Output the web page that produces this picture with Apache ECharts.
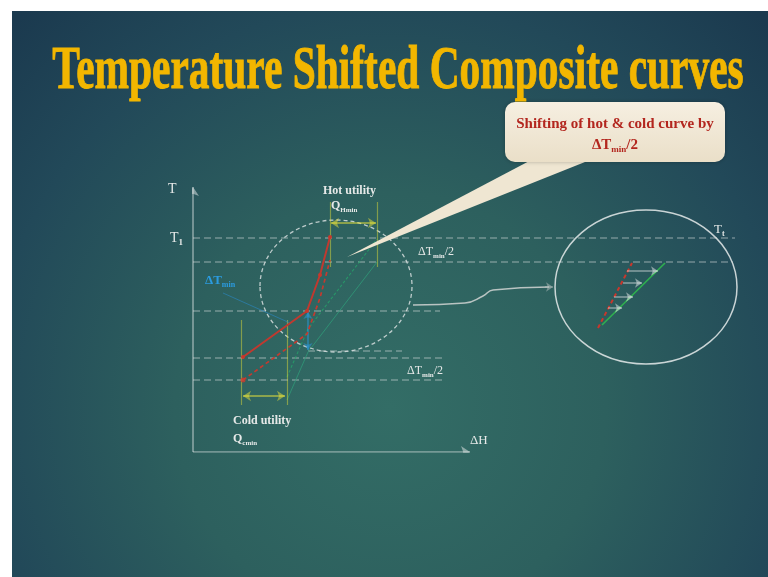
<!DOCTYPE html>
<html><head><meta charset="utf-8">
<script src="https://cdn.jsdelivr.net/npm/echarts@6/dist/echarts.min.js"></script>
<style>html,body{margin:0;padding:0;background:#fff}#c{width:768px;height:577px}</style>
</head><body><div id="c"></div>
<script>
// ---- data (diagram units: H to the right, T upward; origin at axis corner) ----
const levelT     = [214, 190, 141, 94, 72, 101];
const levelStart = [0, 0, 0, 0, 0, 115];
const levelEnd   = [542, 540, 247, 250, 250, 209];

const hotH       = [50, 114, 127, 137];
const hotT       = [95, 141, 177, 215];
const hotShiftT  = [72, 118, 154, 192];

const coldH      = [94, 115, 184];
const coldT      = [52, 100, 190];
const coldShiftT = [75, 123, 213];

const coldUtilH  = [48, 94];
const coldUtilT  = [47, 132];
const coldArrowT = 56;
const hotUtilH   = [137, 184];
const hotUtilT   = [185, 250];
const hotArrowT  = 229;

const dTminH     = 115;
const dTminT     = [140, 102];
const leaderH    = [30, 97];
const leaderT    = [159, 129];

const axisTTop   = 265;
const axisHEnd   = 277;

const insetRedH    = [405, 439];
const insetRedT    = [124, 189];
const insetGreenH  = [409, 472];
const insetGreenT  = [127, 189];
const insetArrowT    = [181, 169, 155, 144];
const insetArrowFrom = [434, 430, 421, 415];
const insetArrowTo   = [465, 449, 440, 429];

const connectorH = [220, 272, 290, 300, 356];
const connectorT = [147, 149, 156, 162, 165];
const connectorTip = [[352, 165], [360, 165]];

// ---- chart ----
const chart = echarts.init(document.getElementById('c'));
const SERIF = '"Liberation Serif", "DejaVu Serif", serif';
const TXT = '#e6e9e8';

function seg(h1, t1, h2, t2) { return { coords: [[h1, t1], [h2, t2]] }; }
function zip(hs, ts) { return hs.map((h, i) => [h, ts[i]]); }

const levelData = levelT.map((t, i) => seg(levelStart[i], t, levelEnd[i], t));
const utilLines = [
  seg(coldUtilH[0], coldUtilT[0], coldUtilH[0], coldUtilT[1]),
  seg(coldUtilH[1], coldUtilT[0], coldUtilH[1], coldUtilT[1]),
  seg(hotUtilH[0], hotUtilT[0], hotUtilH[0], hotUtilT[1]),
  seg(hotUtilH[1], hotUtilT[0], hotUtilH[1], hotUtilT[1])
];
const utilArrows = [
  seg(coldUtilH[0] + 2, coldArrowT, coldUtilH[1] - 2, coldArrowT),
  seg(hotUtilH[0] + 1, hotArrowT, hotUtilH[1] - 1, hotArrowT)
];
const insetArrows = insetArrowT.map((t, i) => seg(insetArrowFrom[i], t, insetArrowTo[i], t));

const sub = (fs) => ({ fontSize: fs, fontFamily: SERIF, fontWeight: 'bold', lineHeight: fs + 2, padding: [7, 0, 0, 0], verticalAlign: 'top' });
const main = (fs, w) => ({ fontSize: fs, fontFamily: SERIF, fontWeight: w || 'normal', lineHeight: fs + 3, verticalAlign: 'top' });

function txt(x, y, text, opts) {
  opts = opts || {};
  const fs = opts.fs || 12;
  const style = {
    text: text, x: 0, y: 0,
    fill: opts.color || TXT,
    font: (opts.weight || 'normal') + ' ' + fs + 'px ' + SERIF,
    align: opts.align || 'left', verticalAlign: 'middle',
    textAlign: opts.align || 'left', textVerticalAlign: 'middle',
    rich: {
      a: Object.assign(main(fs, opts.weight), { fill: opts.color || TXT, color: opts.color || TXT }),
      s: Object.assign(sub(Math.round(fs * 0.62)), { fill: opts.color || TXT, color: opts.color || TXT })
    }
  };
  return { type: 'text', x: x, y: y, z: 20, style: style };
}

const bg = {
  type: 'rect', x: 12, y: 11, z: -10, silent: true,
  shape: { width: 756, height: 566 },
  style: { fill: new echarts.graphic.RadialGradient(0.5, 0.7, 0.95, [
    { offset: 0, color: '#336d66' },
    { offset: 0.4, color: '#2d605e' },
    { offset: 0.75, color: '#224959' },
    { offset: 1, color: '#1b3a4f' }
  ]) }
};

const beige = new echarts.graphic.LinearGradient(0, 0, 0, 1, [
  { offset: 0, color: '#f6efe1' }, { offset: 1, color: '#eadfc8' }
]);

const graphics = [
  bg,
  { type: 'text', x: 398, y: 72, z: 20, scaleX: 0.668, originX: 0, originY: 0,
    style: { text: 'Temperature Shifted Composite curves', x: 0, y: 0,
      font: 'bold 62px ' + SERIF, fill: '#f2b600', stroke: '#f2b600', lineWidth: 1,
      align: 'center', verticalAlign: 'middle',
      textAlign: 'center', textVerticalAlign: 'middle',
      shadowColor: 'rgba(0,0,0,0.35)', shadowBlur: 3, shadowOffsetX: 1, shadowOffsetY: 2 } },
  // callout
  { type: 'polygon', z: 15, shape: { points: [[535, 158], [595, 158], [347, 257]] },
    style: { fill: '#efe6d2' } },
  { type: 'rect', z: 16, x: 505, y: 102, shape: { width: 220, height: 60, r: 10 },
    style: { fill: beige, shadowColor: 'rgba(0,0,0,0.25)', shadowBlur: 4 } },
  txt(615, 124, 'Shifting of hot & cold curve by', { fs: 15, weight: 'bold', color: '#b3261e', align: 'center' }),
  txt(615, 147, '{a|ΔT}{s|min}{a|/2}', { fs: 15, weight: 'bold', color: '#b3261e', align: 'center' }),
  // circles
  { type: 'ellipse', z: 5, shape: { cx: 336, cy: 286, rx: 76, ry: 66 },
    style: { fill: 'none', stroke: 'rgba(225,230,230,0.8)', lineWidth: 1.3, lineDash: [4, 3] } },
  { type: 'ellipse', z: 5, shape: { cx: 646, cy: 287, rx: 91, ry: 77 },
    style: { fill: 'none', stroke: 'rgba(230,235,235,0.85)', lineWidth: 1.5 } },
  // labels
  txt(168, 189, 'T', { fs: 14 }),
  txt(170, 240, '{a|T}{s|1}', { fs: 14 }),
  txt(470, 441, 'ΔH', { fs: 13 }),
  txt(323, 191, 'Hot utility', { fs: 12, weight: 'bold' }),
  txt(331, 207, '{a|Q}{s|Hmin}', { fs: 12, weight: 'bold' }),
  txt(418, 253, '{a|ΔT}{s|min}{a|/2}', { fs: 12 }),
  txt(407, 372, '{a|ΔT}{s|min}{a|/2}', { fs: 12 }),
  txt(205, 282, '{a|ΔT}{s|min}', { fs: 13, weight: 'bold', color: '#2b9be0' }),
  txt(233, 421, 'Cold utility', { fs: 12, weight: 'bold' }),
  txt(233, 440, '{a|Q}{s|cmin}', { fs: 12, weight: 'bold' }),
  txt(714, 231, '{a|T}{s|t}', { fs: 13 })
];

const option = {
  backgroundColor: '#ffffff',
  animation: false,
  grid: { left: 193, right: 15, top: 172, bottom: 125 },
  xAxis: { type: 'value', min: 0, max: 560, show: false },
  yAxis: { type: 'value', min: 0, max: 280, show: false },
  graphic: graphics,
  series: [
    { type: 'lines', coordinateSystem: 'cartesian2d', z: 3, data: levelData,
      lineStyle: { color: 'rgba(222,228,228,0.8)', width: 1.7, type: [7, 4] } },
    { type: 'lines', coordinateSystem: 'cartesian2d', z: 4,
      symbol: ['none', 'arrow'], symbolSize: 9,
      data: [seg(0, 0, 0, axisTTop), seg(0, 0, axisHEnd, 0)],
      lineStyle: { color: '#e8ecec', width: 1.6 } },
    { type: 'line', name: 'cold', z: 4, data: zip(coldH, coldT), symbol: 'none',
      lineStyle: { color: '#2f9a78', width: 1, opacity: 0.8 } },
    { type: 'line', name: 'cold shifted', z: 4, data: zip(coldH, coldShiftT), symbol: 'none',
      lineStyle: { color: '#27a26a', width: 1.1, type: [3, 2], opacity: 0.8 } },
    { type: 'line', name: 'hot', z: 6, data: zip(hotH, hotT),
      symbol: 'circle', symbolSize: 4, showSymbol: true,
      itemStyle: { color: '#c8372c' },
      lineStyle: { color: '#c0392f', width: 2 } },
    { type: 'line', name: 'hot shifted', z: 6, data: zip(hotH, hotShiftT),
      symbol: 'none',
      lineStyle: { color: '#c43a2f', width: 1.7, type: [4, 3] } },
    { type: 'scatter', z: 7, data: [[hotH[0], hotShiftT[0]]], symbolSize: 5,
      itemStyle: { color: '#d03a2c' } },
    { type: 'lines', coordinateSystem: 'cartesian2d', z: 5, data: utilLines,
      lineStyle: { color: '#d7d83a', width: 1.2 } },
    { type: 'lines', coordinateSystem: 'cartesian2d', z: 6, data: utilArrows,
      symbol: ['arrow', 'arrow'], symbolSize: 8,
      lineStyle: { color: '#e8e23a', width: 2 } },
    { type: 'lines', coordinateSystem: 'cartesian2d', z: 6,
      data: [seg(dTminH, dTminT[0], dTminH, dTminT[1])],
      symbol: ['arrow', 'arrow'], symbolSize: 7,
      lineStyle: { color: '#2b9be0', width: 1.8 } },
    { type: 'lines', coordinateSystem: 'cartesian2d', z: 5,
      data: [seg(leaderH[0], leaderT[0], leaderH[1], leaderT[1])],
      lineStyle: { color: '#2b86c0', width: 0.8, opacity: 0.8 } },
    { type: 'line', name: 'connector', z: 5, smooth: 0.5, symbol: 'none',
      data: zip(connectorH, connectorT),
      lineStyle: { color: '#b9c4c2', width: 1.5 } },
    { type: 'lines', coordinateSystem: 'cartesian2d', z: 5,
      data: [{ coords: connectorTip }],
      symbol: ['none', 'arrow'], symbolSize: 7,
      lineStyle: { color: '#b9c4c2', width: 1.5 } },
    { type: 'line', name: 'inset hot', z: 6, data: zip(insetRedH, insetRedT), symbol: 'none',
      lineStyle: { color: '#c8372c', width: 2, type: [4, 3] } },
    { type: 'line', name: 'inset cold', z: 6, data: zip(insetGreenH, insetGreenT), symbol: 'none',
      lineStyle: { color: '#2fb04f', width: 1.6 } },
    { type: 'lines', coordinateSystem: 'cartesian2d', z: 7, data: insetArrows,
      symbol: ['none', 'arrow'], symbolSize: 7,
      lineStyle: { color: '#e8ecec', width: 1.5 } }
  ]
};
chart.setOption(option);
</script>
</body></html>
